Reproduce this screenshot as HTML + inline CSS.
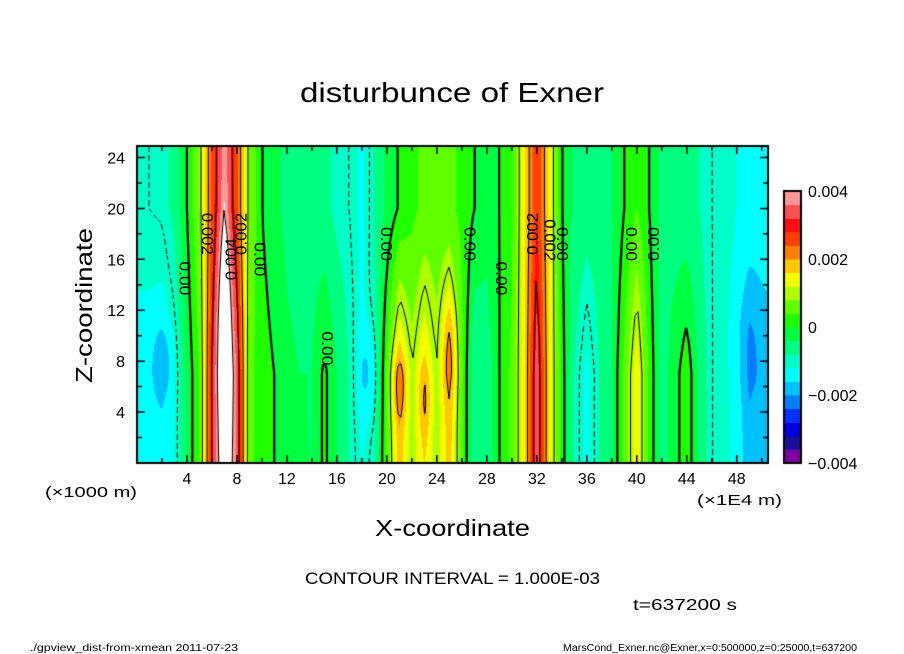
<!DOCTYPE html>
<html><head><meta charset="utf-8">
<style>
html,body{margin:0;padding:0;background:#fff;}
body{width:904px;height:654px;position:relative;overflow:hidden;font-family:"Liberation Sans",sans-serif;}
canvas{position:absolute;left:0;top:0;}
svg{position:absolute;left:0;top:0;}
text{font-family:"Liberation Sans",sans-serif;fill:#000;}
</style></head>
<body>
<canvas id="cv" width="904" height="654"></canvas>
<svg id="sv" width="904" height="654">
<text x="300" y="102" font-size="28" textLength="304" lengthAdjust="spacingAndGlyphs">disturbunce of Exner</text>
<text x="375" y="536" font-size="23" textLength="155" lengthAdjust="spacingAndGlyphs">X-coordinate</text>
<text x="0" y="0" font-size="23" textLength="155" lengthAdjust="spacingAndGlyphs" transform="translate(92,383) rotate(-90)">Z-coordinate</text>
<text x="45" y="497" font-size="15" textLength="92" lengthAdjust="spacingAndGlyphs">(×1000 m)</text>
<text x="697" y="505" font-size="15" textLength="85" lengthAdjust="spacingAndGlyphs">(×1E4 m)</text>
<text x="305" y="584" font-size="17" textLength="295" lengthAdjust="spacingAndGlyphs">CONTOUR INTERVAL = 1.000E-03</text>
<text x="633" y="610" font-size="16" textLength="104" lengthAdjust="spacingAndGlyphs">t=637200 s</text>
<text x="30" y="651" font-size="10" textLength="208" lengthAdjust="spacingAndGlyphs">./gpview_dist-from-xmean  2011-07-23</text>
<text x="563" y="651" font-size="10" textLength="294" lengthAdjust="spacingAndGlyphs">MarsCond_Exner.nc@Exner,x=0:500000,z=0:25000,t=637200</text>
<g id="ticklabels"></g>
<g id="clabels"></g>
</svg>
<script>
// ---- data (units of 1e-3) ----
var colX = [0,1,2,3,4,5,6,7,8,9,10,11,12,13,14,15,16,17,18,19,20,21,22,23,24,25,26,27,28,29,30,31,32,33,34,35,36,37,38,39,40,41,42,43,44,45,46,47,48,49,50,51];
var upperVals = [-1.0,-1.0,-0.95,-0.7,0,0.8,2.5,3.8,2.5,0.8,0,-0.3,-0.5,-0.6,-0.6,-0.7,-0.9,-1.0,-1.3,-0.8,-0.3,0.05,0.3,0.5,0.5,0.5,0.3,0,-0.2,0,0.3,1.5,2.8,1.5,0,-0.5,-0.6,-0.6,-0.4,0,0.4,0,-0.5,-0.6,-0.7,-0.8,-1.0,-1.1,-1.2,-1.3,-1.3,-1.3];
var lowerVals = [-1.4,-1.4,-1.5,-1.2,-0.3,0.4,3.0,4.6,3.5,0.5,0.2,0,-0.3,-0.4,-0.4,0.1,-0.4,-0.8,-1.2,-0.8,0.5,1.8,1.0,1.6,1.0,1.8,0.5,-0.8,-0.7,0,0.5,1.5,3.5,1.5,0.2,-0.8,-1.3,-0.8,-0.4,0.5,1.5,0.3,-0.6,-0.2,0.3,-0.5,-1.0,-1.1,-1.3,-1.9,-1.8,-1.8];
var blobX = [7, 2, 18.5, 21, 25, 49, 23];
var blobZ = [10, 8, 7, 6, 9, 10, 5];
var blobAmp = [0.8, -0.5, -0.6, 0.6, 0.6, -0.3, 0.5];
var blobSX = [0.6, 0.8, 0.8, 0.6, 0.6, 1.2, 0.5];
var blobSZ = [9, 3, 4, 3, 4, 5, 3];
var levelColors = ['#8000a0','#1a0f99','#0000dd','#0030ff','#0080ff','#00c0ff','#00ffff','#00ffc8','#00ff80','#00ff40','#20ff00','#60ff00','#b0ff00','#f0ff00','#ffc800','#ff8000','#ff4000','#ff1010','#ff5050','#ff9999'];
var xTicks = [4,8,12,16,20,24,28,32,36,40,44,48];
var yTicks = [4,8,12,16,20,24];
var cbTicks = [-4,-2,0,2,4];
var cbLabels = ['\u22120.004','\u22120.002','0','0.002','0.004'];
var contourLabels = [[3.9,14.5,'0.00',1],[5.7,18,'0.002',1],[7.5,16,'0.004',-1],[8.3,18,'0.002',-1],[9.9,16,'0.00',1],[20,17.2,'0.00',1],[15.3,9,'0.00',1],[26.7,17.2,'0.00',1],[29.2,14.5,'0.00',1],[31.6,18,'0.002',-1],[33.1,17.5,'0.002',1],[34.1,17.2,'0.00',1],[39.6,17.2,'0.00',1],[41.3,17.2,'0.00',-1]];

// ---- axes ----
var PL=137, PR=768, PT=146, PB=463;
var XMAX=50.5, ZMAX=24.9;
function sx(x){return PL+(x/XMAX)*(PR-PL);}
function sz(z){return PB-(z/ZMAX)*(PB-PT);}
function ix(px){return (px-PL)/(PR-PL)*XMAX;}
function iz(py){return (PB-py)/(PB-PT)*ZMAX;}
function colAt(arr,x){var i=Math.floor(x);if(i<0)i=0;if(i>=arr.length-1)i=arr.length-2;var t=x-colX[i];return arr[i]*(1-t)+arr[i+1]*t;}
function field(x,z){
  var w=Math.min(1,Math.max(0,(z-7)/13));
  var v=colAt(lowerVals,x)*(1-w)+colAt(upperVals,x)*w;
  for(var k=0;k<blobX.length;k++){var dx=(x-blobX[k])/blobSX[k],dz=(z-blobZ[k])/blobSZ[k];v+=blobAmp[k]*Math.exp(-(dx*dx+dz*dz));}
  return v;
}
function hex(c){return [parseInt(c.substr(1,2),16),parseInt(c.substr(3,2),16),parseInt(c.substr(5,2),16)];}
var rgb=levelColors.map(hex);
var cv=document.getElementById('cv');var ctx=cv.getContext('2d');
var W=PR-PL,H=PB-PT;var img=ctx.createImageData(W,H);
for(var py=0;py<H;py++){for(var px=0;px<W;px++){
  var v=field(ix(PL+px+0.5),iz(PT+py+0.5));var c;
  if(v>=4)c=[255,255,255];else{var b=Math.floor((v+4)/0.4);if(b<0)b=0;if(b>19)b=19;c=rgb[b];}
  var o=(py*W+px)*4;img.data[o]=c[0];img.data[o+1]=c[1];img.data[o+2]=c[2];img.data[o+3]=255;}}
ctx.putImageData(img,PL,PT);
// contours (marching squares)
var STEP=3;var nx=Math.ceil(W/STEP)+1,nz=Math.ceil(H/STEP)+1;var G=[];
for(var j=0;j<nz;j++){G[j]=[];for(var i=0;i<nx;i++){G[j][i]=field(ix(PL+i*STEP),iz(PT+j*STEP));}}
ctx.save();ctx.beginPath();ctx.rect(PL,PT,W,H);ctx.clip();
[-1,0,1,2,3,4].forEach(function(L){
  ctx.strokeStyle='#000';ctx.lineWidth=(L===0)?2.2:1;
  for(var j=0;j<nz-1;j++)for(var i=0;i<nx-1;i++){
    var a=G[j][i],b=G[j][i+1],c=G[j+1][i+1],d=G[j+1][i];
    var pts=[];
    function e(v1,v2,x1,y1,x2,y2){var t=(L-v1)/(v2-v1);pts.push([x1+(x2-x1)*t,y1+(y2-y1)*t]);}
    var X0=PL+i*STEP,Y0=PT+j*STEP,X1=X0+STEP,Y1=Y0+STEP;
    if((a<L)!==(b<L))e(a,b,X0,Y0,X1,Y0);
    if((b<L)!==(c<L))e(b,c,X1,Y0,X1,Y1);
    if((c<L)!==(d<L))e(c,d,X1,Y1,X0,Y1);
    if((d<L)!==(a<L))e(d,a,X0,Y1,X0,Y0);
    if(L<0&&((i+j)%3===0))continue;
    for(var k=0;k+1<pts.length;k+=2){ctx.beginPath();ctx.moveTo(pts[k][0],pts[k][1]);ctx.lineTo(pts[k+1][0],pts[k+1][1]);ctx.stroke();}
  }
});
ctx.restore();
// frame and ticks
ctx.strokeStyle='#000';ctx.lineWidth=2;ctx.strokeRect(PL,PT,W,H);
ctx.lineWidth=1.5;
for(var t=2;t<=50;t+=2){var X=sx(t),len=(t%4===0)?8:5;ctx.beginPath();ctx.moveTo(X,PB);ctx.lineTo(X,PB-len);ctx.moveTo(X,PT);ctx.lineTo(X,PT+len);ctx.stroke();}
for(var t=2;t<=24;t+=2){var Y=sz(t),len=(t%4===0)?8:5;ctx.beginPath();ctx.moveTo(PL,Y);ctx.lineTo(PL+len,Y);ctx.moveTo(PR,Y);ctx.lineTo(PR-len,Y);ctx.stroke();}
// colorbar
var CL=784,CR=801,CT=191,CB=463;var bh=(CB-CT)/levelColors.length;
for(var k=0;k<levelColors.length;k++){ctx.fillStyle=levelColors[k];ctx.fillRect(CL,CB-(k+1)*bh,CR-CL,bh+0.5);}
ctx.lineWidth=2;ctx.strokeRect(CL,CT,CR-CL,CB-CT);
// labels
var ns='http://www.w3.org/2000/svg';var tl=document.getElementById('ticklabels');
xTicks.forEach(function(v){var el=document.createElementNS(ns,'text');


el.setAttribute('x',sx(v));el.setAttribute('y',484);el.setAttribute('font-size','16');el.setAttribute('text-anchor','middle');el.textContent=v;tl.appendChild(el);});
yTicks.forEach(function(v){var el=document.createElementNS(ns,'text');


el.setAttribute('x',125);el.setAttribute('y',sz(v)+6);el.setAttribute('font-size','16');el.setAttribute('text-anchor','end');el.textContent=v;tl.appendChild(el);});
cbTicks.forEach(function(v,k){var el=document.createElementNS(ns,'text');


el.setAttribute('x',808);el.setAttribute('y',CB-(v+4)/8*(CB-CT)+6);el.setAttribute('font-size','16');el.textContent=cbLabels[k];tl.appendChild(el);});
var cl=document.getElementById('clabels');
contourLabels.forEach(function(c){var el=document.createElementNS(ns,'text');


var X=sx(c[0]),Y=sz(c[1]);el.setAttribute('font-size','16');el.setAttribute('text-anchor','middle');
el.setAttribute('textLength',c[2].length>4?'42':'34');el.setAttribute('lengthAdjust','spacingAndGlyphs');
el.setAttribute('transform','translate('+X+','+Y+') rotate('+(c[3]>0?90:-90)+')');el.setAttribute('y','6');el.textContent=c[2];cl.appendChild(el);});
</script>
</body></html>
